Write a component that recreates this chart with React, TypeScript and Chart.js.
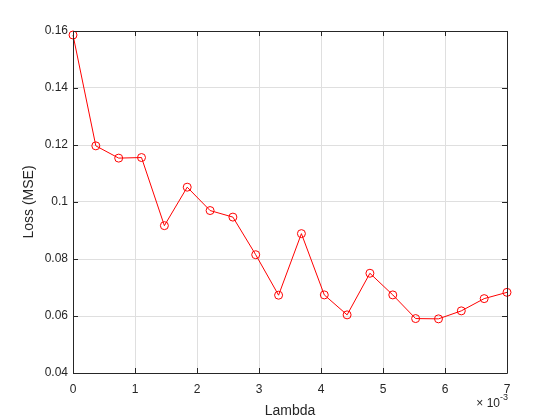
import React, { useEffect, useRef } from "react";
import { Chart, registerables } from "chart.js";

Chart.register(...registerables);

const lambdaValues = [
  0, 0.000368, 0.000737, 0.001105, 0.001474, 0.001842, 0.002211, 0.002579,
  0.002947, 0.003316, 0.003684, 0.004053, 0.004421, 0.004789, 0.005158,
  0.005526, 0.005895, 0.006263, 0.006632, 0.007,
];
const lossValues = [
  0.1586, 0.1197, 0.1154, 0.1156, 0.0917, 0.1052, 0.097, 0.0947, 0.0815,
  0.0673, 0.0889, 0.0674, 0.0604, 0.075, 0.0674, 0.0591, 0.059, 0.0618,
  0.0661, 0.0683,
];
const xTitle = "Lambda";
const yTitle = "Loss (MSE)";
const xExponent = "-3";

const FONT = "'Liberation Sans', Arial, Helvetica, sans-serif";
const AXIS_COLOR = "#262626";

const boxPlugin = {
  id: "matlabBox",
  afterDraw(chart: any) {
    const { ctx, chartArea } = chart;
    const { left, right, top, bottom } = chartArea;
    const xs = chart.scales.x;
    const ys = chart.scales.y;
    ctx.save();
    ctx.strokeStyle = AXIS_COLOR;
    ctx.lineWidth = 1;
    ctx.beginPath();
    ctx.rect(Math.round(left) + 0.5, Math.round(top) + 0.5, Math.round(right - left), Math.round(bottom - top));
    ctx.stroke();
    const tl = 5;
    ctx.beginPath();
    xs.ticks.forEach((t: any) => {
      const px = Math.round(xs.getPixelForValue(t.value)) + 0.5;
      ctx.moveTo(px, bottom);
      ctx.lineTo(px, bottom - tl);
      ctx.moveTo(px, top);
      ctx.lineTo(px, top + tl);
    });
    ys.ticks.forEach((t: any) => {
      const py = Math.round(ys.getPixelForValue(t.value)) + 0.5;
      ctx.moveTo(left, py);
      ctx.lineTo(left + tl, py);
      ctx.moveTo(right, py);
      ctx.lineTo(right - tl, py);
    });
    ctx.stroke();
    // exponent label
    ctx.fillStyle = AXIS_COLOR;
    ctx.textBaseline = "alphabetic";
    ctx.textAlign = "right";
    ctx.font = `9px ${FONT}`;
    const ex = right + 1;
    ctx.fillText(xExponent, ex, 400);
    const w = ctx.measureText(xExponent).width;
    ctx.font = `12px ${FONT}`;
    ctx.fillText("\u00d7 10", ex - w, 407);
    ctx.restore();
  },
};

export default function App() {
  const ref = useRef<HTMLCanvasElement | null>(null);
  useEffect(() => {
    document.body.style.margin = "0";
    const canvas = ref.current;
    if (!canvas) return;
    const chart = new Chart(canvas, {
      type: "line",
      data: {
        datasets: [
          {
            data: lambdaValues.map((x, i) => ({ x, y: lossValues[i] })),
            borderColor: "#ff0000",
            backgroundColor: "rgba(0,0,0,0)",
            borderWidth: 1,
            pointRadius: 4,
            pointBorderWidth: 1,
            pointBackgroundColor: "rgba(0,0,0,0)",
            pointBorderColor: "#ff0000",
            tension: 0,
            clip: false as any,
          },
        ],
      },
      options: {
        animation: false,
        responsive: false,
        maintainAspectRatio: false,
        layout: { padding: { left: 0, right: 53, top: 31, bottom: 0 } },
        plugins: { legend: { display: false }, tooltip: { enabled: false } },
        scales: {
          x: {
            type: "linear",
            min: 0,
            max: 0.007,
            afterFit: (s: any) => {
              s.height = 47;
            },
            border: { display: false },
            grid: { color: "#dfdfdf", drawTicks: false, lineWidth: 1 },
            ticks: {
              stepSize: 0.001,
              autoSkip: false,
              maxRotation: 0,
              padding: 9,
              color: AXIS_COLOR,
              font: { family: FONT, size: 12 },
              callback: (v: any) => String(Math.round(Number(v) * 1000)),
            },
            title: {
              display: true,
              text: xTitle,
              color: AXIS_COLOR,
              font: { family: FONT, size: 14 },
              padding: { top: 6, bottom: 0 },
            },
          },
          y: {
            type: "linear",
            min: 0.04,
            max: 0.16,
            afterFit: (s: any) => {
              s.width = 73;
            },
            border: { display: false },
            grid: { color: "#dfdfdf", drawTicks: false, lineWidth: 1 },
            ticks: {
              stepSize: 0.02,
              autoSkip: false,
              padding: 5,
              color: AXIS_COLOR,
              font: { family: FONT, size: 12 },
              callback: (v: any) => String(parseFloat(Number(v).toFixed(2))),
            },
            title: {
              display: true,
              text: yTitle,
              color: AXIS_COLOR,
              font: { family: FONT, size: 14 },
              padding: { top: 21, bottom: 0 },
            },
          },
        },
      },
      plugins: [boxPlugin],
    });
    return () => chart.destroy();
  }, []);
  return (
    <div style={{ width: 560, height: 420, background: "#fff" }}>
      <canvas ref={ref} width={560} height={420} style={{ display: "block" }} />
    </div>
  );
}
